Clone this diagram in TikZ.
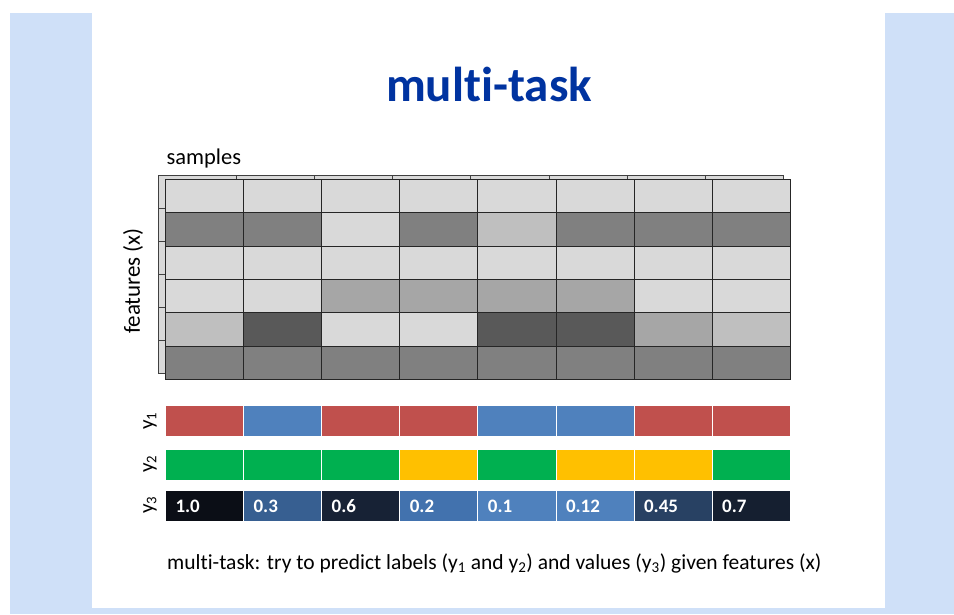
\documentclass[tikz,border=0pt]{standalone}
\usepackage{fontspec}
\setmainfont[Ligatures=NoCommon]{Carlito}
\definecolor{titleblue}{RGB}{0,51,160}
\definecolor{pageblue}{RGB}{207,224,248}
\definecolor{lgray}{HTML}{D9D9D9}
\definecolor{sgray}{HTML}{BFBFBF}
\definecolor{vgray}{HTML}{A6A6A6}
\definecolor{mgray}{HTML}{808080}
\definecolor{dgray}{HTML}{595959}
\definecolor{lred}{HTML}{C0504D}
\definecolor{lblue}{HTML}{4F81BD}
\definecolor{lgreen}{HTML}{00B050}
\definecolor{lyellow}{HTML}{FFC000}
\definecolor{va}{HTML}{0B0E16}
\definecolor{vb}{HTML}{375F91}
\definecolor{vc}{HTML}{172235}
\definecolor{vd}{HTML}{4272AE}
\definecolor{ve}{HTML}{4F81BD}
\definecolor{vf}{HTML}{284163}
\definecolor{vg}{HTML}{151F30}
\tikzset{
  cell/.style={draw=black!85,line width=1pt,minimum width=78.1pt,minimum height=33.3pt,inner sep=0pt,anchor=north west},
  backcell/.style={cell,fill=lgray,draw=black!75,line width=0.8pt},
  lab/.style={draw=white,line width=1pt,minimum width=78.1pt,minimum height=30.5pt,inner sep=0pt,anchor=north west},
  num/.style={lab,text=white,font=\bfseries\fontsize{19}{19}\selectfont,inner xsep=10pt,text width=58.1pt,align=left,text height=13pt,text depth=0pt},
  side/.style={rotate=90,font=\fontsize{21}{21}\selectfont}
}
\begin{document}
\begin{tikzpicture}[x=1pt,y=-1pt]
	\useasboundingbox (0,0) rectangle (954,615);
	\fill[pageblue] (10,13) rectangle (954,614);
	\fill[white] (92,13) rectangle (885,608);
	
	\node[font=\bfseries\fontsize{49}{49}\selectfont,text=titleblue] (title) at (489,84) {multi-task};
	
	% back layer of the matrix
	\foreach \r in {0,...,5}
	\foreach \c in {0,...,7}
	\node[backcell] (b\r\c) at (158+78.1*\c,175+32.9*\r) {};
	
	% features x samples
	\foreach \r/\row in {0/{lgray,lgray,lgray,lgray,lgray,lgray,lgray,lgray},
		1/{mgray,mgray,lgray,mgray,sgray,mgray,mgray,mgray},
		2/{lgray,lgray,lgray,lgray,lgray,lgray,lgray,lgray},
		3/{lgray,lgray,vgray,vgray,vgray,vgray,lgray,lgray},
		4/{sgray,dgray,lgray,lgray,dgray,dgray,vgray,sgray},
		5/{mgray,mgray,mgray,mgray,mgray,mgray,mgray,mgray}}
	\foreach \f [count=\c from 0] in \row
	\node[cell,fill=\f] (m\r\c) at (165+78.1*\c,179+33.3*\r) {};
	
	\node[anchor=base west,font=\fontsize{22.5}{22.5}\selectfont] (samples) at (163,165) {samples};
	\node[side,font=\fontsize{23}{23}\selectfont] (features) at (133,281) {features (x)};
	
	% labels and values
	\foreach \f [count=\c from 0] in {lred,lblue,lred,lred,lblue,lblue,lred,lred}
	\node[lab,fill=\f] (ya\c) at (165+78.1*\c,405) {};
	\foreach \f [count=\c from 0] in {lgreen,lgreen,lgreen,lyellow,lgreen,lyellow,lyellow,lgreen}
	\node[lab,fill=\f] (yb\c) at (165+78.1*\c,449) {};
	\foreach \f/\v [count=\c from 0] in {va/1.0,vb/0.3,vc/0.6,vd/0.2,ve/0.1,ve/0.12,vf/0.45,vg/0.7}
	\node[num,fill=\f] (yc\c) at (165+78.1*\c,490) {\v};
	
	\node[side] (ylab1) at (150,421) {y\textsubscript{1}};
	\node[side] (ylab2) at (150,464) {y\textsubscript{2}};
	\node[side] (ylab3) at (150,505) {y\textsubscript{3}};
	
	\node[anchor=base west,font=\fontsize{21.5}{21.5}\selectfont,inner sep=0pt] (caption) at (167,569)
	{multi-task: try to predict labels (y\textsubscript{1} and y\textsubscript{2}) and values (y\textsubscript{3}) given features (x)};
\end{tikzpicture}
\end{document}
